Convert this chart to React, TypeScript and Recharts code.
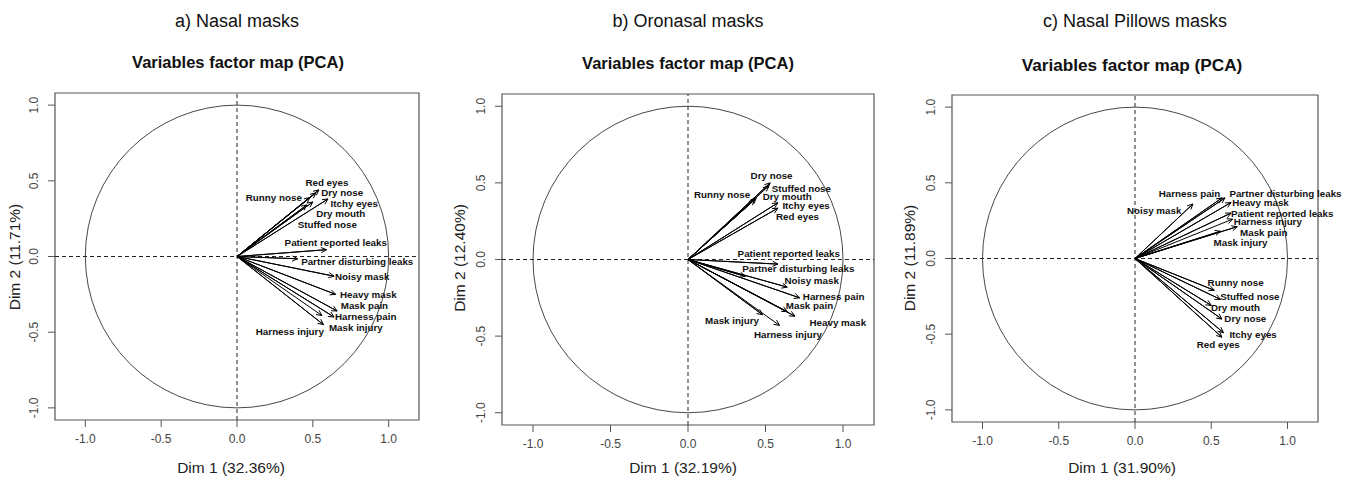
import React from 'react';
import {
  ScatterChart,
  Scatter,
  XAxis,
  YAxis,
  ReferenceLine,
  ReferenceArea,
  ReferenceDot,
} from 'recharts';

// ---------------- data ----------------
const variables = [
  'Red eyes',
  'Dry nose',
  'Runny nose',
  'Itchy eyes',
  'Dry mouth',
  'Stuffed nose',
  'Patient reported leaks',
  'Partner disturbing leaks',
  'Noisy mask',
  'Heavy mask',
  'Mask pain',
  'Harness pain',
  'Mask injury',
  'Harness injury',
];

const axisTicks = [-1, -0.5, 0, 0.5, 1];

// a) Nasal masks
const nasalDim1 = [0.52, 0.54, 0.48, 0.6, 0.5, 0.46, 0.59, 0.4, 0.64, 0.65, 0.66, 0.64, 0.57, 0.56];
const nasalDim2 = [0.42, 0.44, 0.39, 0.38, 0.36, 0.34, 0.045, -0.015, -0.13, -0.25, -0.36, -0.4, -0.45, -0.39];
const nasalLabelDim1 = [0.451, 0.555, 0.058, 0.617, 0.522, 0.4, 0.314, 0.423, 0.646, 0.679, 0.684, 0.646, 0.606, 0.124];
const nasalLabelDim2 = [0.489, 0.423, 0.39, 0.352, 0.286, 0.211, 0.093, -0.035, -0.134, -0.253, -0.324, -0.399, -0.469, -0.496];

// b) Oronasal masks
const oronasalDim1 = [0.58, 0.53, 0.43, 0.58, 0.44, 0.52, 0.58, 0.37, 0.64, 0.69, 0.64, 0.72, 0.48, 0.59];
const oronasalDim2 = [0.335, 0.5, 0.39, 0.37, 0.4, 0.48, -0.03, -0.11, -0.18, -0.37, -0.34, -0.25, -0.36, -0.43];
const oronasalLabelDim1 = [0.568, 0.404, 0.039, 0.609, 0.482, 0.54, 0.32, 0.35, 0.622, 0.784, 0.631, 0.741, 0.11, 0.425];
const oronasalLabelDim2 = [0.28, 0.546, 0.426, 0.352, 0.411, 0.461, 0.037, -0.061, -0.139, -0.411, -0.3, -0.241, -0.398, -0.487];

// c) Nasal Pillows masks
const pillowsDim1 = [0.57, 0.57, 0.52, 0.58, 0.5, 0.56, 0.63, 0.59, 0.38, 0.63, 0.67, 0.57, 0.56, 0.64];
const pillowsDim2 = [-0.52, -0.4, -0.21, -0.49, -0.31, -0.27, 0.3, 0.4, 0.36, 0.37, 0.21, 0.4, 0.18, 0.26];
const pillowsLabelDim1 = [0.405, 0.586, 0.476, 0.619, 0.498, 0.559, 0.63, 0.619, -0.053, 0.637, 0.689, 0.156, 0.515, 0.648];
const pillowsLabelDim2 = [-0.571, -0.397, -0.156, -0.5, -0.321, -0.248, 0.296, 0.432, 0.318, 0.371, 0.173, 0.432, 0.108, 0.246];

// ---------------- layout ----------------
const FONT = '"Liberation Sans", Arial, Helvetica, sans-serif';
const X_DOMAIN: [number, number] = [-1.2, 1.2];
const Y_DOMAIN: [number, number] = [-1.08, 1.08];
const M_LEFT = 10;
const Y_AXIS_W = 50;
const M_TOP = 10;
const M_RIGHT = 30;
const X_AXIS_H = 60;

type PanelCfg = {
  title: string;
  xLabel: string;
  yLabel: string;
  dim1: number[];
  dim2: number[];
  lab1: number[];
  lab2: number[];
  box: { left: number; top: number; w: number; h: number };
  titleX: number;
  subX: number;
  subY: number;
  subSize: number;
  xLabelX: number;
  xLabelY: number;
  yLabelX: number;
  yLabelY: number;
};

const panels: PanelCfg[] = [
  {
    title: 'a) Nasal masks',
    xLabel: 'Dim 1 (32.36%)',
    yLabel: 'Dim 2 (11.71%)',
    dim1: nasalDim1,
    dim2: nasalDim2,
    lab1: nasalLabelDim1,
    lab2: nasalLabelDim2,
    box: { left: 55, top: 93, w: 364, h: 327 },
    titleX: 237,
    subX: 238,
    subY: 62,
    subSize: 16.5,
    xLabelX: 231,
    xLabelY: 468,
    yLabelX: 15,
    yLabelY: 257,
  },
  {
    title: 'b) Oronasal masks',
    xLabel: 'Dim 1 (32.19%)',
    yLabel: 'Dim 2 (12.40%)',
    dim1: oronasalDim1,
    dim2: oronasalDim2,
    lab1: oronasalLabelDim1,
    lab2: oronasalLabelDim2,
    box: { left: 502, top: 94, w: 372, h: 331 },
    titleX: 688,
    subX: 688,
    subY: 63,
    subSize: 16.5,
    xLabelX: 683,
    xLabelY: 468,
    yLabelX: 460,
    yLabelY: 258,
  },
  {
    title: 'c) Nasal Pillows masks',
    xLabel: 'Dim 1 (31.90%)',
    yLabel: 'Dim 2 (11.89%)',
    dim1: pillowsDim1,
    dim2: pillowsDim2,
    lab1: pillowsLabelDim1,
    lab2: pillowsLabelDim2,
    box: { left: 952, top: 95, w: 366, h: 327 },
    titleX: 1135,
    subX: 1132,
    subY: 65,
    subSize: 17.2,
    xLabelX: 1122,
    xLabelY: 468,
    yLabelX: 910,
    yLabelY: 258,
  },
];

const fmt = (v: number) => Number(v).toFixed(1);

const XTick = (props: any) => (
  <text
    x={props.x}
    y={props.y + 10}
    textAnchor="middle"
    dominantBaseline="central"
    fontSize={12}
    fill="#444"
    fontFamily={FONT}
  >
    {fmt(props.payload.value)}
  </text>
);

const YTick = (props: any) => {
  const x = props.x - 12;
  return (
    <text
      x={x}
      y={props.y}
      transform={`rotate(-90 ${x} ${props.y})`}
      textAnchor="middle"
      dominantBaseline="central"
      fontSize={12}
      fill="#444"
      fontFamily={FONT}
    >
      {fmt(props.payload.value)}
    </text>
  );
};

function Panel({ cfg }: { cfg: PanelCfg }) {
  const { box } = cfg;
  const width = M_LEFT + Y_AXIS_W + box.w + M_RIGHT;
  const height = M_TOP + box.h + X_AXIS_H;
  const ux = box.w / (X_DOMAIN[1] - X_DOMAIN[0]);
  const uy = box.h / (Y_DOMAIN[1] - Y_DOMAIN[0]);

  const arrowData = variables.flatMap((name, i) => [
    { x: 0, y: 0, tip: false, name },
    { x: cfg.dim1[i], y: cfg.dim2[i], tip: true, name },
  ]);
  const labelData = variables.map((name, i) => ({ x: cfg.lab1[i], y: cfg.lab2[i], name }));

  const arrowHead = (p: any) => {
    const d = p.payload;
    if (!d || !d.tip) return <g />;
    const ang = Math.atan2(-d.y * uy, d.x * ux);
    const L = 6;
    const a = Math.PI / 7;
    const x1 = p.cx - L * Math.cos(ang - a);
    const y1 = p.cy - L * Math.sin(ang - a);
    const x2 = p.cx - L * Math.cos(ang + a);
    const y2 = p.cy - L * Math.sin(ang + a);
    return (
      <path
        d={`M${x1},${y1}L${p.cx},${p.cy}L${x2},${y2}`}
        fill="none"
        stroke="#000"
        strokeWidth={1}
      />
    );
  };

  const labelShape = (p: any) => (
    <text
      x={p.cx}
      y={p.cy}
      dominantBaseline="central"
      fontSize={9.8}
      fontWeight="bold"
      fill="#111"
      fontFamily={FONT}
    >
      {p.payload.name}
    </text>
  );

  const circleShape = (p: any) => (
    <ellipse cx={p.cx} cy={p.cy} rx={ux} ry={uy} fill="none" stroke="#333" strokeWidth={0.9} />
  );

  return (
    <div
      style={{
        position: 'absolute',
        left: box.left - M_LEFT - Y_AXIS_W,
        top: box.top - M_TOP,
        width,
        height,
      }}
    >
      <ScatterChart
        width={width}
        height={height}
        margin={{ top: M_TOP, right: M_RIGHT, bottom: 0, left: M_LEFT }}
        style={{ overflow: 'visible' }}
      >
        <XAxis
          type="number"
          dataKey="x"
          domain={X_DOMAIN}
          ticks={axisTicks}
          interval={0}
          axisLine={false}
          tickLine={{ stroke: '#555' }}
          tickSize={7}
          tickMargin={2}
          height={X_AXIS_H}
          tick={XTick}
        />
        <YAxis
          type="number"
          dataKey="y"
          domain={Y_DOMAIN}
          ticks={axisTicks}
          interval={0}
          axisLine={false}
          tickLine={{ stroke: '#555' }}
          tickSize={7}
          tickMargin={2}
          width={Y_AXIS_W}
          tick={YTick}
        />
        <ReferenceArea
          x1={X_DOMAIN[0]}
          x2={X_DOMAIN[1]}
          y1={Y_DOMAIN[0]}
          y2={Y_DOMAIN[1]}
          fill="none"
          fillOpacity={0}
          stroke="#555"
          strokeWidth={1.2}
        />
        <ReferenceDot x={0} y={0} r={1} shape={circleShape} />
        <ReferenceLine x={0} stroke="#222" strokeDasharray="4 3" strokeWidth={1} />
        <ReferenceLine y={0} stroke="#222" strokeDasharray="4 3" strokeWidth={1} />
        <Scatter
          data={arrowData}
          line={{ stroke: '#000', strokeWidth: 1 }}
          lineType="joint"
          shape={arrowHead}
          isAnimationActive={false}
        />
        <Scatter data={labelData} shape={labelShape} isAnimationActive={false} />
      </ScatterChart>
    </div>
  );
}

function Titles({ cfg }: { cfg: PanelCfg }) {
  return (
    <>
      <div
        style={{
          position: 'absolute',
          left: cfg.titleX - 200,
          top: 21 - 11,
          width: 400,
          lineHeight: '22px',
          textAlign: 'center',
          fontSize: 18,
          fontFamily: FONT,
          color: '#111',
          whiteSpace: 'nowrap',
        }}
      >
        {cfg.title}
      </div>
      <div
        style={{
          position: 'absolute',
          left: cfg.subX - 200,
          top: cfg.subY - 11,
          width: 400,
          lineHeight: '22px',
          textAlign: 'center',
          fontSize: cfg.subSize,
          fontWeight: 'bold',
          fontFamily: FONT,
          color: '#111',
          whiteSpace: 'nowrap',
        }}
      >
        Variables factor map (PCA)
      </div>
      <div
        style={{
          position: 'absolute',
          left: cfg.xLabelX - 150,
          top: cfg.xLabelY - 10,
          width: 300,
          lineHeight: '20px',
          textAlign: 'center',
          fontSize: 15.5,
          fontFamily: FONT,
          color: '#222',
          whiteSpace: 'nowrap',
        }}
      >
        {cfg.xLabel}
      </div>
      <div
        style={{
          position: 'absolute',
          left: cfg.yLabelX,
          top: cfg.yLabelY,
          lineHeight: '20px',
          fontSize: 15.5,
          fontFamily: FONT,
          color: '#222',
          whiteSpace: 'nowrap',
          transform: 'translate(-50%, -50%) rotate(-90deg)',
        }}
      >
        {cfg.yLabel}
      </div>
    </>
  );
}

export default function App() {
  return (
    <div
      style={{
        position: 'absolute',
        left: 0,
        top: 0,
        width: 1347,
        height: 481,
        background: '#fff',
        overflow: 'hidden',
      }}
    >
      {panels.map((cfg) => (
        <React.Fragment key={cfg.title}>
          <Panel cfg={cfg} />
          <Titles cfg={cfg} />
        </React.Fragment>
      ))}
    </div>
  );
}
